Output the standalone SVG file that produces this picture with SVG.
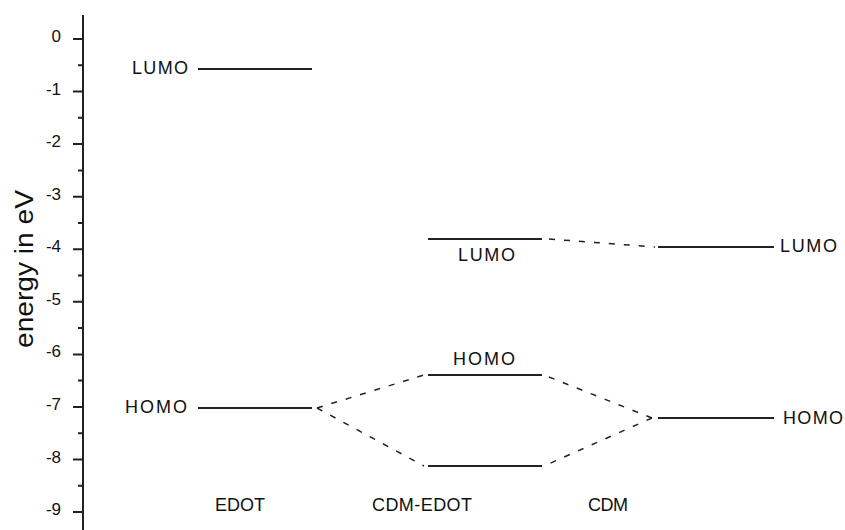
<svg xmlns="http://www.w3.org/2000/svg" width="845" height="530" viewBox="0 0 845 530">
<style>
text { font-family: "Liberation Sans", Arial, sans-serif; fill: #111; }
.tick { font-size: 17px; text-anchor: end; }
.lab { font-size: 18px; }
.level { stroke: #222; stroke-width: 2; fill: none; }
.dash { stroke: #222; stroke-width: 1.5; fill: none; stroke-dasharray: 6 9; }
.axis { stroke: #222; stroke-width: 2; fill: none; }
</style>
<rect width="845" height="530" fill="#fff"/>
<g id="axis">
<line class="axis" x1="83" y1="15" x2="83" y2="530"/>
<path class="axis" d="M73 39H83 M73 91.6H83 M73 144.1H83 M73 196.7H83 M73 249.2H83 M73 301.8H83 M73 354.4H83 M73 406.9H83 M73 459.5H83 M73 512H83"/>
<path class="axis" d="M78 65.3H83 M78 117.8H83 M78 170.4H83 M78 223H83 M78 275.5H83 M78 328.1H83 M78 380.6H83 M78 433.2H83 M78 485.8H83"/>
<text class="tick" x="61" y="42">0</text>
<text class="tick" x="61" y="94.6">-1</text>
<text class="tick" x="61" y="147.1">-2</text>
<text class="tick" x="61" y="199.7">-3</text>
<text class="tick" x="61" y="252.2">-4</text>
<text class="tick" x="61" y="304.8">-5</text>
<text class="tick" x="61" y="357.4">-6</text>
<text class="tick" x="61" y="409.9">-7</text>
<text class="tick" x="61" y="462.5">-8</text>
<text class="tick" x="61" y="515">-9</text>
<text x="33" y="269" transform="rotate(-90 33 269)" text-anchor="middle" font-size="26" textLength="158" lengthAdjust="spacingAndGlyphs">energy in eV</text>
</g>
<g id="edot-lumo">
<line class="level" x1="198" y1="69" x2="312" y2="69"/>
<text class="lab" x="132" y="74" textLength="56">LUMO</text>
</g>
<g id="edot-homo">
<line class="level" x1="198" y1="408" x2="312" y2="408"/>
<text class="lab" x="125" y="413" textLength="62">HOMO</text>
</g>
<g id="cdmedot-lumo">
<line class="level" x1="428" y1="239" x2="542" y2="239"/>
<text class="lab" x="458" y="261" textLength="57">LUMO</text>
</g>
<g id="cdmedot-homo">
<line class="level" x1="428" y1="375" x2="542" y2="375"/>
<text class="lab" x="453" y="365" textLength="62">HOMO</text>
</g>
<g id="cdmedot-lower">
<line class="level" x1="428" y1="466" x2="542" y2="466"/>
</g>
<g id="cdm-lumo">
<line class="level" x1="658" y1="247" x2="774" y2="247"/>
<text class="lab" x="780" y="252" textLength="57">LUMO</text>
</g>
<g id="cdm-homo">
<line class="level" x1="658" y1="418" x2="774" y2="418"/>
<text class="lab" x="783" y="424" textLength="60">HOMO</text>
</g>
<g id="labels">
<text class="lab" x="215" y="511" textLength="50">EDOT</text>
<text class="lab" x="372" y="511" textLength="100">CDM-EDOT</text>
<text class="lab" x="588" y="511" textLength="40">CDM</text>
</g>
<g id="connectors">
<line class="dash" x1="549" y1="239" x2="655" y2="247"/>
<line class="dash" x1="317" y1="408" x2="424" y2="375"/>
<line class="dash" x1="317" y1="408" x2="424" y2="466"/>
<line class="dash" x1="652" y1="418" x2="544" y2="375"/>
<line class="dash" x1="652" y1="418" x2="544" y2="466"/>
</g>
</svg>
